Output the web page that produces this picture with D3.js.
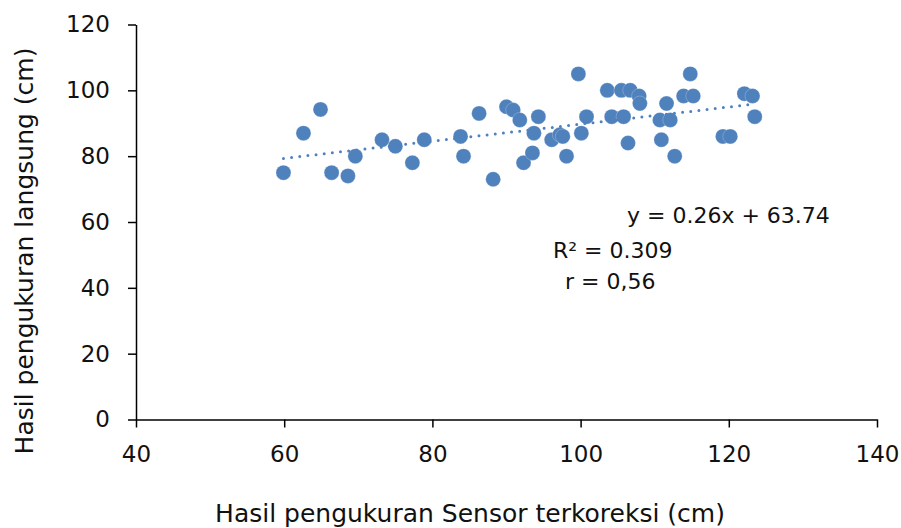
<!DOCTYPE html>
<html>
<head>
<meta charset="utf-8">
<script src="https://cdn.jsdelivr.net/npm/d3@7.9.0/dist/d3.min.js"></script>
<style>
  body { margin: 0; background: #fff; }
  svg { display: block; font-family: "DejaVu Sans", Lato, sans-serif; }
  .tick text { font-size: 23px; fill: #111; font-family: "DejaVu Sans", sans-serif; }
</style>
</head>
<body>
<svg id="chart" width="901" height="528"></svg>
<script>
// sensor readings (x) vs direct measurement (y), in cm
const sensorX = [59.9, 62.6, 64.9, 66.4, 68.6, 69.6, 73.2, 75.0, 77.3, 78.9,
  83.8, 84.2, 86.3, 88.2, 90.0, 90.9, 91.8, 92.3, 93.5, 93.7,
  94.3, 96.1, 97.2, 97.6, 98.1, 99.7, 100.1, 100.8, 103.6, 104.2,
  105.5, 105.8, 106.4, 106.7, 107.9, 108.0, 110.7, 110.9, 111.6, 112.1,
  112.7, 113.9, 114.8, 115.2, 119.2, 120.2, 122.1, 123.2, 123.5];
const directY = [75, 87, 94.2, 75, 74, 80, 85, 83, 78, 85,
  86, 80, 93, 73, 95, 94, 91, 78, 81, 87,
  92, 85, 86.5, 86, 80, 105, 87, 92, 100, 92,
  100, 92, 84, 100, 98.3, 96, 91, 85, 96, 91,
  80, 98.3, 105, 98.3, 86, 86, 99, 98.3, 92];
const xTicks = [40, 60, 80, 100, 120, 140];
const yTicks = [0, 20, 40, 60, 80, 100, 120];
const slope = 0.26, intercept = 63.74;
const eqLabels = ["y = 0.26x + 63.74", "R\u00b2 = 0.309", "r = 0,56"];

const svg = d3.select("#chart");
const x = d3.scaleLinear().domain([40, 140]).range([136, 877]);
const y = d3.scaleLinear().domain([0, 120]).range([419.5, 24.5]);
const blue = "#4f81bd";

// axes
const xAxis = svg.append("g").attr("transform", `translate(0,${y(0)})`)
  .call(d3.axisBottom(x).tickValues(xTicks).tickSize(8).tickPadding(18).tickSizeOuter(0));
const yAxis = svg.append("g").attr("transform", `translate(${x(40)},0)`)
  .call(d3.axisLeft(y).tickValues(yTicks).tickSize(8).tickPadding(18).tickSizeOuter(0));
[xAxis, yAxis].forEach(g => {
  g.select(".domain").attr("stroke", "#000").attr("stroke-width", 1.5);
  g.selectAll(".tick line").attr("stroke", "#000").attr("stroke-width", 1.5);
});
xAxis.selectAll(".tick text").attr("dy", "0.71em");

// points
svg.append("g").selectAll("circle")
  .data(sensorX.map((v, i) => [v, directY[i]]))
  .join("circle")
  .attr("cx", d => x(d[0]))
  .attr("cy", d => y(d[1]))
  .attr("r", 7.5)
  .attr("fill", blue)
  .attr("stroke", "#fff")
  .attr("stroke-opacity", 0.4)
  .attr("stroke-width", 0.6);

// linear trendline
const [x0, x1] = d3.extent(sensorX);
svg.append("line")
  .attr("x1", x(x0)).attr("y1", y(slope * x0 + intercept))
  .attr("x2", x(x1)).attr("y2", y(slope * x1 + intercept))
  .attr("stroke", blue)
  .attr("stroke-width", 3)
  .attr("stroke-linecap", "round")
  .attr("stroke-dasharray", "0 8.2");

// equation labels
const eqPos = [[627, 223], [553, 258], [565, 289]];
svg.append("g").selectAll("text")
  .data(eqLabels)
  .join("text")
  .attr("x", (d, i) => eqPos[i][0])
  .attr("y", (d, i) => eqPos[i][1])
  .attr("font-size", 22)
  .attr("fill", "#111")
  .text(d => d);

// axis titles
svg.append("text")
  .attr("x", 470).attr("y", 522)
  .attr("text-anchor", "middle")
  .attr("font-size", 25)
  .attr("fill", "#111")
  .text("Hasil pengukuran Sensor terkoreksi (cm)");
svg.append("text")
  .attr("transform", "translate(33,251) rotate(-90)")
  .attr("text-anchor", "middle")
  .attr("font-size", 25)
  .attr("fill", "#111")
  .text("Hasil pengukuran langsung (cm)");
</script>
</body>
</html>
